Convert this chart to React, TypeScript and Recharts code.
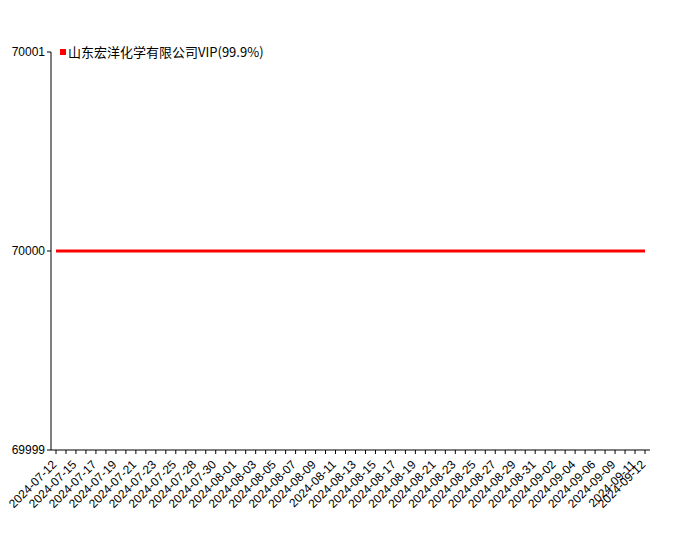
import React from 'react';
import { LineChart, Line, XAxis, YAxis } from 'recharts';

const dates = [
  '2024-07-12', '2024-07-13', '2024-07-15', '2024-07-16', '2024-07-17', '2024-07-18',
  '2024-07-19', '2024-07-20', '2024-07-21', '2024-07-22', '2024-07-23', '2024-07-24',
  '2024-07-25', '2024-07-26', '2024-07-28', '2024-07-29', '2024-07-30', '2024-07-31',
  '2024-08-01', '2024-08-02', '2024-08-03', '2024-08-04', '2024-08-05', '2024-08-06',
  '2024-08-07', '2024-08-08', '2024-08-09', '2024-08-10', '2024-08-11', '2024-08-12',
  '2024-08-13', '2024-08-14', '2024-08-15', '2024-08-16', '2024-08-17', '2024-08-18',
  '2024-08-19', '2024-08-20', '2024-08-21', '2024-08-22', '2024-08-23', '2024-08-24',
  '2024-08-25', '2024-08-26', '2024-08-27', '2024-08-28', '2024-08-29', '2024-08-30',
  '2024-08-31', '2024-09-01', '2024-09-02', '2024-09-03', '2024-09-04', '2024-09-05',
  '2024-09-06', '2024-09-08', '2024-09-09', '2024-09-10', '2024-09-11', '2024-09-12',
];

const prices = [
  70000, 70000, 70000, 70000, 70000, 70000, 70000, 70000, 70000, 70000,
  70000, 70000, 70000, 70000, 70000, 70000, 70000, 70000, 70000, 70000,
  70000, 70000, 70000, 70000, 70000, 70000, 70000, 70000, 70000, 70000,
  70000, 70000, 70000, 70000, 70000, 70000, 70000, 70000, 70000, 70000,
  70000, 70000, 70000, 70000, 70000, 70000, 70000, 70000, 70000, 70000,
  70000, 70000, 70000, 70000, 70000, 70000, 70000, 70000, 70000, 70000,
];

const yTicks = [69999, 70000, 70001];
const seriesName = '山东宏洋化学有限公司VIP(99.9%)';

const data = dates.map((d, i) => ({ date: d, price: prices[i] }));

const FONT = '"Liberation Sans", Arial, sans-serif';

const DateTick = (props: any) => {
  const { x, y, payload, index } = props;
  if (index % 2 !== 0 && index !== dates.length - 1) return null;
  const tx = x - 5;
  const ty = y + 3;
  return (
    <text
      x={tx}
      y={ty}
      transform={`rotate(-45, ${tx}, ${ty})`}
      textAnchor="end"
      dominantBaseline="hanging"
      fontSize={12}
      fontFamily={FONT}
      fill="#000"
    >
      {payload.value}
    </text>
  );
};

export default function App() {
  return (
    <div style={{ position: 'absolute', left: 0, top: 0, width: 700, height: 550, background: '#fff' }}>
      <LineChart width={700} height={550} data={data} margin={{ top: 52, right: 50, bottom: 0, left: 0 }}>
        <XAxis
          dataKey="date"
          interval={0}
          tick={<DateTick />}
          tickSize={4}
          height={100}
          padding={{ left: 5, right: 5 }}
          stroke="#000"
          tickLine={{ stroke: '#000' }}
        />
        <YAxis
          domain={[69999, 70001]}
          ticks={yTicks}
          width={51}
          tickSize={4}
          stroke="#000"
          tick={{ fill: '#000', fontSize: 12, fontFamily: FONT }}
          allowDecimals={false}
        />
        <Line
          type="linear"
          dataKey="price"
          name={seriesName}
          stroke="#ff0000"
          strokeWidth={3}
          dot={false}
          isAnimationActive={false}
        />
      </LineChart>
      <div
        style={{
          position: 'absolute',
          left: 60,
          top: 43,
          display: 'flex',
          alignItems: 'center',
          fontFamily: '"Noto Sans CJK SC", sans-serif',
          fontSize: 13,
          lineHeight: '18px',
          color: '#000',
          whiteSpace: 'nowrap',
        }}
      >
        <span style={{ width: 6, height: 6, background: '#ff0000', marginRight: 2 }} />
        <span>{seriesName}</span>
      </div>
    </div>
  );
}
